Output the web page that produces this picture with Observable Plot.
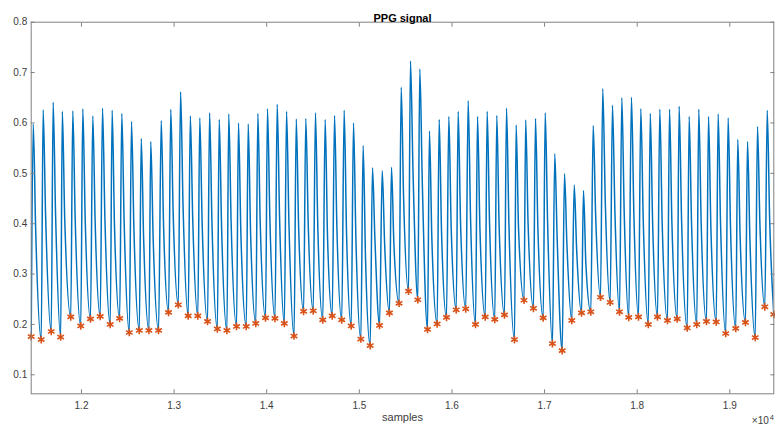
<!DOCTYPE html>
<html><head><meta charset="utf-8">
<script src="https://cdn.jsdelivr.net/npm/d3@7"></script>
<script src="https://cdn.jsdelivr.net/npm/@observablehq/plot@0.6"></script>
<style>html,body{margin:0;padding:0;background:#fff;overflow:hidden}</style>
</head><body><div id="chart"></div>
<script>
// Trough (onset) samples and values, marked with orange asterisks
const troughS = [11457,11565,11673,11775,11884,11992,12097,12202,12310,12412,12516,12624,12728,12832,12940,13045,13152,13256,13361,13467,13570,13674,13779,13882,13987,14089,14190,14295,14398,14502,14605,14707,14810,14912,15016,15117,15218,15325,15429,15531,15631,15736,15840,15941,16046,16149,16254,16359,16462,16567,16675,16778,16880,16985,17085,17190,17294,17399,17499,17604,17708,17809,17909,18014,18120,18219,18327,18432,18540,18643,18748,18853,18956,19064,19169,19274,19378,19475];
const troughV = [0.176,0.170,0.186,0.175,0.215,0.197,0.211,0.216,0.200,0.212,0.184,0.188,0.188,0.188,0.224,0.239,0.217,0.217,0.206,0.191,0.188,0.196,0.196,0.202,0.213,0.212,0.202,0.177,0.226,0.227,0.209,0.217,0.209,0.197,0.171,0.158,0.198,0.223,0.242,0.266,0.249,0.190,0.201,0.214,0.229,0.231,0.200,0.215,0.210,0.219,0.170,0.248,0.232,0.213,0.162,0.148,0.208,0.223,0.225,0.254,0.244,0.225,0.214,0.215,0.200,0.215,0.208,0.211,0.193,0.200,0.206,0.205,0.182,0.192,0.204,0.174,0.235,0.220];
// Systolic peaks
const peakS = [11479,11586,11694,11793,11906,12014,12122,12227,12331,12435,12540,12645,12748,12861,12964,13070,13175,13277,13383,13487,13590,13695,13800,13904,14008,14113,14214,14319,14422,14526,14631,14732,14836,14937,15041,15142,15247,15347,15452,15552,15653,15757,15862,15966,16067,16175,16276,16380,16484,16589,16693,16796,16902,17007,17110,17215,17320,17420,17525,17628,17733,17834,17938,18039,18141,18244,18349,18453,18561,18665,18770,18874,18982,19086,19191,19299,19404];
const peakV = [0.598,0.626,0.641,0.623,0.624,0.628,0.614,0.629,0.625,0.619,0.603,0.569,0.563,0.605,0.627,0.662,0.614,0.610,0.620,0.607,0.618,0.600,0.598,0.619,0.628,0.637,0.623,0.608,0.609,0.620,0.607,0.615,0.625,0.600,0.555,0.511,0.505,0.512,0.671,0.723,0.707,0.584,0.607,0.613,0.623,0.644,0.613,0.623,0.615,0.629,0.596,0.606,0.609,0.620,0.539,0.499,0.477,0.466,0.595,0.668,0.635,0.650,0.651,0.628,0.619,0.627,0.627,0.633,0.613,0.627,0.613,0.618,0.610,0.567,0.563,0.593,0.625];
// Dicrotic shoulder on the falling edge
const notchS = [11505,11612,11720,11819,11932,12040,12148,12253,12357,12461,12566,12671,12774,12887,12990,13096,13201,13303,13409,13513,13616,13721,13826,13930,14034,14139,14240,14345,14448,14552,14657,14758,14862,14963,15067,15168,15273,15373,15478,15580,15680,15783,15888,15992,16093,16201,16302,16406,16510,16615,16719,16822,16928,17033,17136,17241,17346,17446,17551,17656,17760,17860,17964,18065,18167,18270,18375,18479,18587,18691,18796,18900,19008,19112,19217,19325,19430];
const notchV = [0.39,0.42,0.42,0.41,0.41,0.41,0.40,0.41,0.39,0.40,0.39,0.37,0.37,0.39,0.42,0.44,0.41,0.40,0.40,0.39,0.40,0.38,0.38,0.40,0.41,0.41,0.40,0.39,0.40,0.39,0.37,0.39,0.38,0.37,0.33,0.37,0.36,0.36,0.45,0.50,0.48,0.37,0.38,0.39,0.40,0.41,0.39,0.40,0.39,0.40,0.39,0.40,0.39,0.40,0.37,0.36,0.35,0.32,0.42,0.44,0.42,0.42,0.42,0.41,0.40,0.40,0.40,0.41,0.40,0.40,0.39,0.40,0.39,0.37,0.37,0.40,0.41];

const xTicks = [12000,13000,14000,15000,16000,17000,18000,19000];
const xTickLabels = ["1.2","1.3","1.4","1.5","1.6","1.7","1.8","1.9"];
const yTicks = [0.1,0.2,0.3,0.4,0.5,0.6,0.7,0.8];
const yTickLabels = ["0.1","0.2","0.3","0.4","0.5","0.6","0.7","0.8"];
const titleText = ["PPG signal"];
const xLabelText = ["samples"];
const expBase = ["×10"];
const expPower = ["4"];

const wave = [];
for (let i = 0; i < peakS.length; i++) {
  wave.push({s: troughS[i], v: troughV[i]});
  wave.push({s: peakS[i], v: peakV[i]});
  wave.push({s: notchS[i], v: notchV[i]});
}
wave.push({s: troughS[troughS.length - 1], v: troughV[troughV.length - 1]});
const troughs = troughS.map((s, i) => ({s, v: troughV[i]}));

const font = "'Liberation Sans', Arial, Helvetica, sans-serif";
const axisColor = "#808080";
const labelColor = "#3c3c3c";

const chart = Plot.plot({
  width: 775, height: 430,
  marginLeft: 30.7, marginRight: 1.7, marginTop: 21.7, marginBottom: 36.7,
  style: {fontFamily: font, background: "#fff", overflow: "visible"},
  x: {domain: [11457, 19475]},
  y: {domain: [0.0623, 0.8]},
  marks: [
    Plot.line(wave, {x: "s", y: "v", stroke: "#0072BD", strokeWidth: 1.5, curve: "monotone-x", clip: true}),
    Plot.dot(troughs, {x: "s", y: "v", symbol: "asterisk", stroke: "#D95319", r: 3.6, strokeWidth: 1.6}),
    Plot.frame({stroke: axisColor, strokeWidth: 1}),
    Plot.axisX(xTicks, {anchor: "bottom", tickSize: -4, tickPadding: 12, tickFormat: d => xTickLabels[xTicks.indexOf(d)], stroke: axisColor, fill: labelColor, fontSize: 10, label: null}),
    Plot.axisX(xTicks, {anchor: "top", tickSize: -4, stroke: axisColor, fill: "none", label: null}),
    Plot.axisY(yTicks, {anchor: "left", tickSize: -4, tickPadding: 8, tickFormat: d => yTickLabels[yTicks.indexOf(d)], stroke: axisColor, fill: labelColor, fontSize: 10, label: null}),
    Plot.axisY(yTicks, {anchor: "right", tickSize: -4, stroke: axisColor, fill: "none", label: null}),
    Plot.text(titleText, {frameAnchor: "top", dy: -8.5, text: d => d, fontWeight: "bold", fontSize: 11, fill: "#000"}),
    Plot.text(xLabelText, {frameAnchor: "bottom", dy: 27, text: d => d, fontSize: 11, fill: labelColor}),
    Plot.text(expBase, {frameAnchor: "bottom-right", textAnchor: "end", dx: -5, dy: 30, text: d => d, fontSize: 10, fill: labelColor}),
    Plot.text(expPower, {frameAnchor: "bottom-right", textAnchor: "end", dx: 0, dy: 26, text: d => d, fontSize: 7.5, fill: labelColor})
  ]
});
document.getElementById("chart").appendChild(chart);
</script>
</body></html>
